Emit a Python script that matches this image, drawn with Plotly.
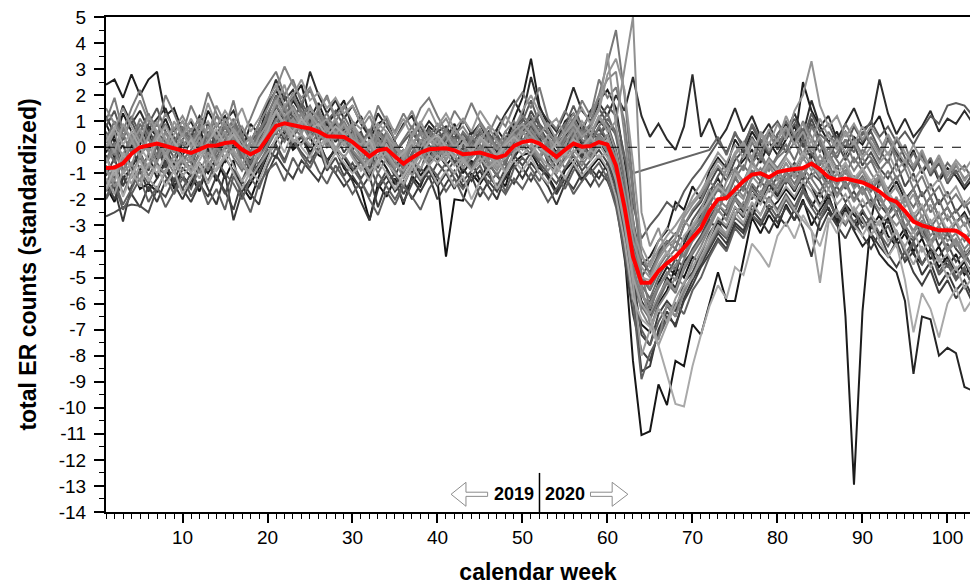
import plotly.graph_objects as go

weeks = list(range(1, 104))

red_mean = [
    -0.8, -0.78, -0.62, -0.25, 0.0, 0.08, 0.14, 0.05, -0.05, -0.15,
    -0.22, -0.08, 0.06, 0.07, 0.16, 0.2, -0.09, -0.27, -0.1, 0.35,
    0.82, 0.92, 0.84, 0.78, 0.72, 0.6, 0.42, 0.39, 0.39, 0.2,
    -0.1, -0.35, -0.12, -0.06, -0.35, -0.63, -0.4, -0.2, -0.08, -0.05,
    -0.04, -0.12, -0.27, -0.24, -0.2, -0.3, -0.4, -0.3, 0.05, 0.2,
    0.26, 0.14, -0.1, -0.37, -0.1, 0.14, 0.02, 0.05, 0.2, 0.1,
    -0.7, -2.3, -4.2, -5.2, -5.2, -4.75, -4.45, -4.2, -3.85, -3.45,
    -3.1, -2.45, -2.0, -1.95, -1.6, -1.3, -1.05, -1.0, -1.15, -0.95,
    -0.88, -0.83, -0.8, -0.63, -0.85, -1.15, -1.25, -1.2, -1.27, -1.35,
    -1.5, -1.7, -1.97, -2.1, -2.45, -2.85, -3.0, -3.1, -3.19, -3.19,
    -3.2, -3.4, -3.75,
]

s01 = [2.4, 2.6, 1.9, 2.8, 2.0, 2.6, 2.9, 1.2, 1.5, 0.6,
       1.0, 0.3, 1.4, 0.8, 1.2, 0.4, -0.2, 0.9, 0.5, 1.6,
       2.2, 1.5, 1.9, 2.4, 1.1, 1.7, 0.9, 1.3, 1.8, 0.7,
       1.2, 0.3, 0.9, 1.1, 0.2, -0.4, 0.6, 0.1, 0.8, 0.5,
       0.3, 0.9, 0.1, 0.6, 0.4, -0.1, 0.7, 0.2, 1.1, 1.9,
       3.4, 1.6, 0.8, 0.2, 1.0, 1.3, 0.6, 1.4, 1.8, 2.2,
       1.5, -0.5, -2.8, -4.5, -4.2, -3.6, -3.2, -2.1, -2.4, -1.5,
       -2.0, -0.9, -0.4, -0.8, 0.3, -0.2, 0.6, 0.1, -0.3, 0.5,
       0.9, 0.2, 2.5, 1.4, 0.8, 0.2, 0.6, -0.3, 0.4, 0.1,
       0.7, 1.2, 0.3, -0.2, -0.7, -0.1, -1.0, -0.5, -1.3, -0.8,
       -1.1, -1.6, -1.2]

s02 = [-1.5, -2.1, -1.2, -0.8, -1.6, -1.4, -1.7, -0.9, -1.3, -1.1,
       -1.5, -0.6, -1.0, -0.4, -1.2, -0.5, -1.9, -1.4, -0.8, -0.2,
       0.3, 0.6, -0.1, 0.2, 0.4, -0.3, -0.5, -0.1, -0.8, -1.2,
       -1.6, -2.8, -1.4, -1.9, -1.2, -2.2, -1.1, -1.5, -0.7, -1.3,
       -4.2, -2.0, -2.05, -1.0, -1.4, -0.9, -1.6, -1.2, -0.6, -0.3,
       -0.2, -0.8, -1.1, -1.7, -0.9, -0.5, -1.2, -0.8, -0.4, -0.9,
       -1.8, -3.4, -5.6, -6.8, -7.1, -6.0, -5.5, -4.6, -5.0, -4.2,
       -4.5, -3.6, -2.9, -3.4, -2.6, -2.2, -2.7, -1.9, -2.4, -2.1,
       -1.6, -2.0, -1.4, -2.3, -1.7, -2.4, -2.8, -2.2, -2.6, -2.9,
       -3.1, -2.6, -3.4, -3.8, -3.3, -4.1, -4.5, -3.9, -4.6, -4.2,
       -4.8, -4.4, -5.1]

s03 = [0.4, -0.3, 0.8, 0.2, 1.1, 0.5, 0.9, 0.3, -0.2, 0.6,
       0.1, 0.8, 0.4, 1.2, 0.7, 0.9, 0.2, -0.4, 0.5, 1.3,
       1.9, 1.4, 2.1, 1.2, 1.6, 0.9, 1.3, 0.6, 1.0, 0.4,
       0.2, -0.6, 0.5, 0.3, -0.2, -0.8, 0.1, 0.6, 0.4, 0.9,
       0.5, 0.2, -0.3, 0.4, 0.1, -0.5, 0.3, 0.0, 0.8, 1.2,
       0.9, 0.4, 0.2, -0.3, 0.6, 1.1, 0.5, 0.9, 2.0, 3.2,
       4.5, 2.0, -1.5, -4.8, -6.2, -5.4, -4.8, -5.1, -4.3, -3.6,
       -3.2, -2.1, -2.5, -1.6, -1.1, -1.7, -0.6, -0.2, -0.9, -0.4,
       -0.1, 0.5, -0.3, 0.8, 0.2, -0.5, -0.2, 0.3, -0.6, -0.1,
       -0.4, -0.9, -0.5, -1.2, -0.8, -1.6, -1.1, -1.9, -1.5, -2.2,
       -1.8, -2.3, -2.0]

s04 = [-0.9, -1.3, -0.4, -0.7, 0.3, -0.2, 0.5, -0.4, 0.2, -0.6,
       -0.3, 0.4, -0.5, 0.1, 0.6, -0.2, -0.8, 0.3, -0.4, 0.8,
       1.4, 0.7, 1.1, 0.5, 1.3, 0.3, 0.8, -0.1, 0.6, 0.9,
       -0.3, 0.2, -0.7, 0.5, -0.4, -0.1, -0.9, 0.3, -0.2, 0.4,
       -0.5, 0.1, -0.6, -0.1, 0.4, -0.3, -0.8, 0.2, -0.1, 0.6,
       0.2, -0.4, 0.5, -0.6, 0.1, 0.7, -0.2, 0.4, 1.2, 0.6,
       1.0, 3.0, 5.0, -2.5, -3.8, -3.1, -4.2, -3.5, -2.8, -3.2,
       -2.4, -1.6, -2.2, -1.3, -0.8, -1.4, -0.5, -1.1, -0.7, -1.3,
       -0.6, -1.2, -0.4, 0.3, -0.9, -0.3, -1.0, -0.6, -1.3, -0.8,
       -1.4, -1.1, -1.9, -1.5, -2.3, -1.8, -2.7, -2.2, -3.0, -2.6,
       -3.3, -2.9, -3.6]

s05 = [-0.2, 0.5, -0.6, 0.1, -0.9, -0.3, -1.2, -0.5, -1.6, -0.8,
       -1.1, -1.7, -0.6, -1.3, -0.4, -0.9, -1.5, -2.0, -1.1, -0.3,
       0.2, 0.9, 0.1, 0.5, -0.2, 0.3, -0.6, 0.0, -0.4, -0.9,
       -0.5, -1.2, -0.3, -0.8, -1.4, -0.9, -0.4, -1.1, -0.6, -0.2,
       -0.7, -0.3, -1.0, -0.5, -1.3, -0.6, -1.1, -1.5, -0.4, 0.1,
       -0.3, 0.4, -0.6, -1.0, -0.4, 0.2, -0.5, -0.1, 0.3, -0.3,
       -1.5, -4.0, -8.2, -11.05, -10.9, -9.1, -9.9, -8.2, -8.4, -6.8,
       -7.2, -6.0, -4.8, -5.9, -5.9, -4.3, -2.7, -3.3, -2.6, -3.1,
       -2.2, -2.8, -2.0, -3.0, -2.4, -1.9, -2.7, -2.3, -3.1, -2.5,
       -2.9, -3.4, -2.7, -3.6, -3.1, -4.0, -3.5, -4.3, -3.8, -4.6,
       -4.1, -4.9, -4.5]

s06 = [-1.6, -0.8, -1.9, -1.1, -0.5, -1.3, -0.7, -1.5, -0.9, -1.8,
       -1.2, -0.6, -1.4, -0.8, -0.3, -1.0, -1.6, -0.9, -1.3, -0.5,
       0.4, -0.2, 0.6, 0.0, -0.4, 0.3, -0.8, -0.2, -0.6, -1.0,
       -0.7, -1.3, -0.5, -1.0, -1.6, -1.1, -0.6, -1.2, -0.8, -1.4,
       -0.9, -1.5, -1.1, -2.0, -1.3, -0.8, -1.6, -1.0, -0.5, -0.9,
       -0.4, -1.0, -1.4, -0.7, -1.2, -0.6, -1.1, -0.7, -0.3, -0.8,
       -1.9, -3.6, -5.8, -6.6, -6.9, -7.6, -8.7, -9.85, -9.95, -8.4,
       -7.2, -6.1, -5.3, -5.8, -4.6, -4.9, -3.7, -4.1, -4.6, -3.4,
       -2.9, -3.5, -2.6, -3.2, -3.8, -2.7, -3.3, -2.5, -3.0, -3.4,
       -2.8, -3.6, -4.2, -3.7, -5.1, -7.1, -5.6, -6.2, -7.3, -6.0,
       -5.4, -6.3, -5.8]

s07 = [0.9, 0.2, 1.3, 0.6, 0.1, 0.8, 0.4, 1.1, 0.3, -0.3,
       0.2, 0.7, -0.1, 0.5, 1.0, 0.6, 0.1, -0.5, 0.4, 1.1,
       1.6, 1.0, 1.8, 1.3, 0.7, 1.2, 0.5, 0.9, 0.2, 0.6,
       0.0, -0.5, 0.4, 0.1, -0.3, -0.7, 0.2, -0.2, 0.5, 0.1,
       0.4, -0.1, 0.3, -0.4, 0.2, 0.6, -0.2, 0.3, 0.9, 0.5,
       1.1, 0.6, 0.3, -0.2, 0.4, 0.8, 0.1, 0.5, 1.0, 0.7,
       -0.3, -1.9, -3.8, -5.6, -6.3, -5.2, -4.6, -4.9, -3.7, -3.0,
       -2.6, -1.7, -1.2, -1.8, -0.9, -0.5, -0.1, -0.6, 0.2, -0.3,
       0.3, 0.8, 0.1, -0.4, 0.2, -0.8, -2.5, -6.5, -12.95, -6.3,
       -2.8, -1.2, -1.8, -1.3, -2.0, -1.6, -2.4, -1.9, -2.7, -2.3,
       -2.9, -2.5, -3.1]

s08 = [0.3, -0.4, 0.1, -0.8, -0.2, 0.6, -0.5, 0.0, -0.7, 0.2,
       -0.4, 0.3, -0.2, 0.5, -0.6, 0.1, -0.3, -0.9, -0.1, 0.5,
       1.2, 0.8, 1.5, 0.6, 1.0, 0.4, 0.9, 0.2, 0.7, -0.1,
       0.3, -0.4, 0.2, -0.3, -0.8, -0.2, -1.0, 0.1, -0.4, 0.3,
       -0.2, 0.4, -0.5, 0.0, -0.3, 0.5, -0.1, -0.6, 0.2, 0.8,
       0.5, 0.1, -0.4, 0.3, -0.2, 0.4, -0.3, 0.6, 0.3, -0.2,
       -1.2, -2.9, -4.6, -5.9, -6.5, -5.8, -5.0, -5.4, -4.4, -4.0,
       -3.5, -2.8, -3.2, -2.4, -2.0, -2.5, -1.6, -2.1, -1.4, -1.9,
       -1.2, -1.7, -1.0, -1.5, -2.2, -1.8, -2.9, -2.4, -3.2, -3.8,
       -3.4, -4.1, -4.5, -4.8, -5.9, -8.7, -6.5, -6.6, -8.0, -7.7,
       -7.9, -9.2, -9.35]

s09 = [1.2, 0.5, 1.6, 0.9, 1.4, 0.7, 1.1, 1.5, 0.6, 1.0,
       0.4, 1.2, 0.8, 0.3, 1.0, 1.4, 0.6, 0.2, 0.9, 1.7,
       2.6, 1.8, 2.2, 1.5, 2.9, 2.0, 1.3, 1.8, 1.1, 1.6,
       0.9, 0.4, 1.3, 0.8, 0.3, 0.9, 1.2, 0.5, 1.0, 0.6,
       0.8, 0.3, 1.1, 0.5, 0.9, 0.2, 0.7, 1.3, 1.8, 1.2,
       2.7, 1.5, 1.0, 0.6, 1.3, 2.3, 1.4, 1.0, 1.7, 1.2,
       2.0, 1.4, 2.7, 1.2, 0.4, 0.9, 0.3, -0.1, 0.8, 2.8,
       0.4, 1.1, 0.2, 0.7, 1.5, 0.6, 1.2, 0.4, 0.9, 0.1,
       0.6, 1.3, 0.5, 1.8, 0.8, 1.2, 0.3, 0.9, 1.5, 0.7,
       0.9, 2.6, 1.3, 0.5, 1.1, 0.4, 0.8, 1.4, 0.6, 1.1,
       0.9, 1.4, 0.9]

s10 = [-0.5, 0.2, -0.9, -0.3, 0.4, -0.1, 0.6, -0.4, 0.3, -0.6,
       -0.9, -0.2, 0.5, -0.4, 0.3, 0.8, -0.3, -0.6, 0.2, 0.6,
       1.0, 1.4, 0.6, 1.1, 0.4, 0.8, 0.1, 0.7, 0.3, -0.2,
       -0.6, 0.1, -0.4, 0.4, -0.1, -0.9, -0.2, 0.3, -0.5, 0.2,
       -0.3, 0.3, -0.8, -0.2, 0.5, -0.4, 0.1, -0.7, 0.4, 0.9,
       0.4, 0.9, -0.2, 0.3, -0.5, 0.6, -0.1, 0.8, 0.4, 1.1,
       0.6, -0.4, -1.0, -0.9, None, None, None, None, None, None,
       None, -0.1, 0.4, -0.3, 0.6, -0.1, 0.9, 0.3, -0.2, 0.5,
       1.0, 0.4, 0.7, -0.1, 0.5, 0.2, -0.4, 0.3, -0.2, 0.6,
       0.1, -0.5, 0.3, -0.3, -0.8, -0.2, -0.9, -0.4, -1.2, -0.6,
       -1.0, -0.7, -1.3]

s11 = [-2.65, -2.5, -2.3, -2.2, -2.25, -2.5, -1.6, -1.9, -1.2, -1.6,
       -1.0, -1.5, -0.7, -1.1, -1.8, -0.9, -1.3, -0.5, -1.0, -0.2,
       0.1, -0.5, 0.3, -0.2, -0.6, 0.0, -0.9, -0.4, -1.1, -0.6,
       -1.2, -0.7, -1.5, -0.9, -1.3, -2.1, -1.4, -0.8, -1.2, -0.6,
       -1.0, -0.5, -1.3, -0.9, -0.4, -1.1, -1.5, -0.8, -0.3, -0.7,
       -0.2, -0.6, -1.0, -1.4, -0.8, -0.3, -0.9, -0.5, -0.1, -0.6,
       -1.6, -3.2, -5.1, -6.2, -5.9, -5.3, -4.9, -4.3, -4.6, -3.9,
       -3.4, -2.7, -2.2, -2.6, -1.9, -1.5, -2.0, -1.3, -1.7, -1.1,
       -1.4, -0.9, -1.6, -1.0, -1.3, -1.9, -1.5, -2.1, -1.7, -2.3,
       -2.0, -2.6, -2.9, -2.5, -3.3, -3.6, -3.1, -3.9, -4.2, -3.7,
       -4.4, -4.0, -4.7]

s12 = [-1.1, -0.4, -1.5, -0.7, -0.2, -0.9, 0.1, -0.6, -1.3, -0.5,
       -0.8, 0.2, -0.4, 0.6, -0.1, 0.5, -0.7, -1.1, -0.3, 0.2,
       0.9, 0.3, 1.2, 0.7, 1.1, 0.2, 0.6, 0.9, 0.1, 0.4,
       -0.4, -0.9, 0.1, -0.5, -1.1, -0.4, 0.2, -0.3, 0.4, -0.2,
       0.3, -0.4, 0.0, -0.7, -0.2, -0.9, -0.3, 0.1, 0.6, 0.2,
       0.8, 0.3, -0.3, -0.8, 0.2, 0.5, -0.4, 0.3, 0.7, 0.2,
       -0.9, -2.6, -4.9, -7.2, -7.6, -6.4, -5.9, -6.3, -5.2, -4.8,
       -4.1, -3.3, -2.8, -3.1, -2.3, -2.7, -1.5, -2.0, -1.3, -1.8,
       -1.0, -0.6, -1.3, -0.2, -0.9, -1.4, -0.7, -1.6, -1.1, -1.8,
       -1.3, -2.2, -2.6, -2.0, -3.1, -2.6, -3.5, -3.0, -3.8, -3.3,
       -3.9, -4.3, -3.8]

s13 = [-0.3, -1.2, -0.6, 0.3, -0.4, 0.7, 0.0, -0.8, 0.4, -0.2,
       0.5, -0.3, 0.9, 0.2, -0.5, 0.4, -0.1, -0.7, 0.3, 0.9,
       0.5, 1.2, 0.4, 0.9, 1.4, 0.6, 0.1, 0.5, -0.2, 0.3,
       0.6, -0.2, -0.8, 0.2, -0.4, -0.1, -0.6, -0.9, 0.1, -0.5,
       0.1, -0.6, -0.2, 0.4, -0.5, -0.1, -0.7, 0.0, -0.4, 0.5,
       1.4, 0.8, 0.2, -0.5, -0.1, 0.6, 0.2, -0.3, 0.4, 0.9,
       0.5, -1.2, -3.6, -5.0, -4.4, -4.0, -3.6, -3.9, -3.0, -2.5,
       -2.1, -1.4, -0.8, -1.3, -0.5, -0.1, -0.7, 0.3, -0.3, 0.4,
       -0.2, 0.6, 0.0, 1.1, 0.3, -0.4, 0.2, -0.5, 0.1, -0.7,
       -0.2, -0.8, -1.2, -0.6, -1.5, -1.0, -1.9, -1.4, -2.2, -1.7,
       -2.5, -2.1, -2.8]

s14 = [0.8, 1.4, 0.4, 1.0, 0.3, 0.9, 1.5, 0.6, 0.1, 0.7,
       0.3, -0.2, 0.6, 0.1, 0.8, 0.3, -0.3, 0.2, 0.6, 1.0,
       1.5, 2.0, 1.1, 1.6, 0.9, 1.4, 0.7, 1.0, 0.5, 0.8,
       0.2, 0.6, -0.1, 0.5, 0.0, -0.5, 0.4, 0.8, 0.2, 0.7,
       0.2, 0.6, 0.0, 0.4, -0.2, 0.3, 0.5, -0.1, 0.7, 1.1,
       0.7, 1.3, 0.6, 0.1, 0.5, 1.0, 0.4, 0.8, 1.5, 0.9,
       -0.1, -1.6, -3.3, -4.4, -4.8, -4.1, -3.7, -3.3, -3.6, -2.8,
       -2.3, -1.8, -1.1, -0.6, -1.0, -0.3, 0.4, -0.2, 0.6, -0.1,
       0.5, 1.1, 0.4, 0.9, 0.1, -0.3, 0.4, 0.0, 0.8, 0.2,
       0.6, -0.1, -0.6, 0.3, -0.4, -0.9, -0.3, -1.1, -0.6, -1.4,
       -0.9, -1.5, -1.0]

s15 = [-1.9, -1.3, -2.2, -1.6, -0.9, -1.4, -0.6, -1.1, -1.8, -1.2,
       -1.6, -0.8, -1.3, -0.5, -1.0, -1.4, -2.0, -1.2, -1.6, -0.7,
       0.0, -0.6, 0.3, -0.3, -0.8, -0.1, -0.5, -1.0, -0.3, -0.8,
       -1.3, -1.9, -1.0, -1.5, -2.0, -1.4, -0.8, -1.3, -0.7, -1.1,
       -0.6, -1.2, -1.6, -1.1, -0.7, -1.4, -1.0, -1.7, -0.8, -0.4,
       -0.8, -1.3, -0.6, -1.1, -1.6, -0.9, -0.5, -1.0, -0.6, -1.2,
       -2.3, -4.0, -5.9, -8.9, -7.9, -7.3, -6.6, -6.0, -6.4, -5.5,
       -5.0, -4.2, -3.6, -4.0, -3.1, -3.5, -2.6, -2.9, -2.2, -2.7,
       -2.0, -2.5, -1.7, -2.3, -2.8, -2.1, -2.6, -3.0, -2.4, -3.1,
       -2.7, -3.3, -3.8, -3.2, -4.1, -3.6, -4.5, -4.0, -4.8, -4.3,
       -5.0, -4.6, -5.4]

s16 = [0.1, -0.6, 0.5, -0.2, 0.9, 0.3, -0.3, 0.6, 0.0, -0.5,
       -0.1, 0.5, -0.3, 0.3, 0.8, 0.2, -0.4, 0.1, -0.2, 0.4,
       1.1, 0.6, 0.9, 1.3, 0.5, 1.0, 0.3, 0.7, 0.9, 0.2,
       -0.2, -0.7, 0.3, -0.1, -0.6, -1.0, -0.3, 0.2, -0.2, 0.3,
       -0.1, 0.4, -0.4, 0.2, -0.6, 0.0, -0.5, 0.3, 0.5, 0.0,
       0.6, 0.1, -0.5, -0.2, 0.4, 0.0, 0.5, 0.2, 0.8, 0.3,
       -0.4, -2.0, -4.1, -5.3, -5.8, -5.0, -4.4, -4.7, -3.9, -3.3,
       -2.9, -2.2, -1.6, -2.0, -1.2, -1.6, -0.9, -1.3, -0.6, -1.0,
       -0.4, -0.9, -0.2, -0.7, -1.2, -0.6, -1.4, -0.9, -1.5, -1.1,
       -1.7, -1.2, -2.0, -2.5, -1.9, -2.8, -2.3, -3.1, -2.6, -3.4,
       -2.9, -3.6, -3.2]

s17 = [-1.4, -0.7, -1.8, -1.0, -0.4, -1.1, -0.5, -0.1, -0.8, -0.3,
       -0.6, 0.0, -0.7, -0.2, 0.3, -0.4, -0.9, -0.3, -0.7, 0.0,
       0.6, 0.2, 0.8, 0.4, 0.0, 0.6, 0.2, -0.2, 0.4, -0.3,
       -0.8, -0.3, -1.0, -0.4, -0.9, -1.5, -0.7, -0.2, -0.6, 0.0,
       -0.5, 0.1, -0.3, -0.8, -0.2, -0.6, -1.1, -0.5, -0.1, 0.3,
       -0.1, -0.5, 0.2, -0.3, -0.8, -0.2, 0.1, -0.4, 0.3, -0.1,
       -1.0, -2.8, -4.5, -6.1, -6.6, -5.9, -5.2, -5.6, -4.7, -4.1,
       -3.6, -3.0, -2.4, -2.8, -1.9, -2.3, -1.4, -1.8, -1.1, -1.6,
       -0.9, -1.4, -0.8, -1.2, -1.7, -1.1, -1.8, -1.3, -2.0, -1.5,
       -2.2, -1.8, -2.6, -2.2, -3.0, -3.5, -3.0, -3.7, -3.3, -4.0,
       -3.6, -4.2, -4.6]

s18 = [-0.6, 0.1, -0.3, 0.5, -0.1, 0.4, -0.4, 0.2, 0.7, 0.1,
       0.4, -0.2, 0.3, 0.9, 0.4, -0.1, 0.5, -0.3, 0.2, 0.7,
       1.3, 0.9, 1.6, 1.0, 0.6, 1.2, 0.5, 0.3, 0.8, 0.4,
       0.0, -0.4, 0.6, 0.1, -0.3, -0.6, 0.0, -0.4, 0.3, -0.1,
       0.6, 0.2, -0.2, 0.3, 0.7, 0.1, -0.3, 0.4, 0.0, 0.6,
       0.3, 0.7, 0.0, -0.4, 0.3, 0.8, 0.3, 0.0, 0.5, 0.1,
       -0.6, -2.2, -3.9, -4.9, -5.4, -4.6, -4.1, -3.6, -3.9, -3.1,
       -2.7, -1.9, -1.4, -1.7, -0.9, -1.3, -0.6, -1.0, -0.4, -0.8,
       -0.3, 0.2, -0.5, 0.0, -0.6, -0.2, -0.8, -0.3, -0.9, -0.4,
       -1.0, -1.5, -0.9, -1.6, -2.1, -1.6, -2.4, -1.9, -2.7, -2.3,
       -2.9, -2.6, -3.3]

s19 = [-1.7, -1.0, -0.5, -1.2, -0.3, -0.8, 0.2, -0.4, -1.0, -0.4,
       -0.9, -0.3, 0.2, -0.5, 0.0, 0.5, -0.2, -0.8, -0.4, 0.1,
       0.7, 1.1, 0.5, 0.9, 0.3, 0.7, 0.0, 0.4, 0.6, -0.1,
       -0.5, -1.0, -0.4, 0.1, -0.5, -1.2, -0.6, -0.1, -0.5, -0.2,
       -0.3, 0.2, -0.6, -0.3, 0.0, -0.7, -0.4, -0.9, -0.2, 0.2,
       0.0, -0.4, -0.9, -0.4, 0.1, -0.3, -0.7, -0.2, 0.4, 0.0,
       -0.8, -2.5, -4.7, -5.7, -6.0, -5.3, -4.9, -4.5, -4.1, -3.6,
       -3.2, -2.6, -2.0, -2.3, -1.5, -1.9, -1.2, -0.8, -1.4, -0.9,
       -1.3, -0.7, -1.1, -0.5, -1.0, -1.6, -1.0, -1.5, -1.2, -1.8,
       -1.4, -2.0, -2.4, -1.9, -2.7, -3.2, -2.6, -3.4, -3.0, -3.6,
       -3.3, -3.9, -3.5]

s20 = [-0.8, -1.5, -1.0, -0.6, -1.3, -0.2, -0.7, -1.0, -0.3, -0.9,
       -0.4, -1.0, -0.2, -0.7, 0.1, -0.3, -0.6, -1.0, 0.0, 0.3,
       0.9, 0.4, 1.0, 0.6, 1.2, 0.5, 0.2, 0.6, 0.1, 0.5,
       -0.2, -0.7, 0.2, -0.3, -0.8, -0.4, -1.1, -0.5, 0.0, -0.4,
       0.1, -0.3, -0.8, -0.4, -0.1, -0.5, -0.9, -0.3, 0.3, -0.1,
       0.4, -0.1, -0.4, -0.9, -0.3, 0.2, -0.2, 0.3, 0.0, 0.5,
       -0.5, -2.1, -4.3, -5.5, -6.4, -5.7, -5.1, -5.5, -4.6, -4.0,
       -3.5, -2.9, -2.2, -2.5, -1.7, -2.0, -1.1, -1.5, -0.7, -1.2,
       -0.6, -1.1, -0.4, -0.9, -0.3, -0.8, -1.3, -0.7, -1.4, -0.9,
       -1.6, -1.1, -1.9, -2.3, -2.0, -2.7, -3.2, -2.8, -3.5, -3.1,
       -3.8, -3.4, -4.0]

s21 = [0.5, -0.2, 0.9, 0.3, -0.4, 0.4, 1.0, 0.3, -0.1, 0.5,
       0.0, 0.6, 1.0, 0.4, 0.1, 0.7, 0.2, -0.3, 0.4, 0.9,
       1.8, 1.2, 1.5, 0.9, 1.3, 0.8, 1.1, 0.5, 0.9, 0.3,
       0.1, 0.5, -0.2, 0.4, 0.0, -0.4, 0.3, 0.0, 0.4, 0.1,
       0.5, 0.0, 0.4, -0.2, 0.3, 0.0, -0.3, 0.2, 0.6, 0.9,
       0.5, 0.1, 0.4, 0.0, 0.5, 0.9, 0.4, 0.7, 1.5, 3.6,
       0.8, -0.9, -3.1, -4.2, -4.6, -3.9, -3.4, -3.0, -2.5, -2.1,
       -1.7, -1.1, -0.5, -0.9, -0.2, 0.2, -0.4, 0.5, -0.1, 0.3,
       0.8, 0.1, 0.6, -0.1, 0.4, -0.3, 0.3, -0.2, 0.2, -0.4,
       0.0, -0.6, -0.2, -0.9, -0.5, -1.3, -0.8, -1.6, -1.2, -1.9,
       -1.5, -2.2, -1.8]

s22 = [-1.2, -1.8, -0.9, -1.4, -0.7, -1.2, -1.6, -0.9, -0.5, -1.1,
       -0.7, -1.2, -0.5, -0.9, -0.4, -0.1, -0.6, -1.2, -0.7, -0.2,
       0.3, 0.8, 0.2, 0.5, 0.1, -0.2, 0.3, 0.0, -0.4, 0.1,
       -0.4, -0.9, -0.6, -0.2, -0.7, -0.9, -0.4, -0.8, -0.3, -0.6,
       -0.2, -0.7, -0.4, -0.9, -0.6, -0.2, -0.7, -0.4, 0.1, -0.3,
       0.1, -0.3, -0.7, -1.0, -0.5, -0.1, -0.5, -0.1, -0.4, -0.2,
       -1.3, -3.0, -5.2, -8.0, -7.0, -6.2, -6.7, -5.8, -5.2, -4.6,
       -4.0, -3.4, -2.7, -3.0, -2.3, -2.6, -1.8, -2.2, -1.6, -2.0,
       -1.5, -1.9, -1.3, -1.7, -2.3, -1.6, -2.2, -1.8, -2.5, -2.0,
       -2.6, -3.0, -2.5, -3.3, -3.8, -3.2, -4.0, -3.6, -4.4, -4.1,
       -4.7, -4.3, -5.0]

s23 = [0.2, 0.8, 0.1, 0.6, 0.0, -0.5, 0.3, 0.8, 0.2, -0.2,
       0.3, -0.3, 0.2, 0.7, 0.1, 0.5, 0.0, -0.4, 0.1, 0.6,
       1.4, 0.9, 0.6, 1.1, 0.7, 0.9, 0.4, 0.8, 0.5, 0.1,
       -0.2, 0.3, -0.4, 0.1, -0.5, -0.2, 0.2, -0.3, 0.2, 0.5,
       0.0, -0.4, 0.2, -0.2, 0.4, 0.1, -0.4, 0.1, 0.4, 0.1,
       0.3, 0.0, -0.3, 0.2, -0.3, 0.3, 0.0, 0.4, 0.0, 0.3,
       -0.7, -2.4, -4.4, -5.0, -5.1, -4.5, -4.0, -4.3, -3.4, -3.0,
       -2.5, -2.0, -1.5, -1.8, -1.0, -1.4, -0.7, -1.1, -0.5, -0.9,
       -0.4, -0.8, -0.2, -0.6, -1.1, -0.5, -1.0, -0.6, -1.2, -0.8,
       -1.3, -0.9, -1.7, -2.2, -1.8, -2.6, -2.2, -2.9, -2.5, -3.2,
       -2.8, -3.5, -3.1]

s24 = [0.6, -0.1, 0.3, 1.2, 0.5, 0.0, 0.6, 0.2, -0.4, 0.3,
       0.7, 0.1, -0.4, 0.2, 0.5, 1.0, 0.3, -0.2, 0.6, 1.2,
       2.0, 1.4, 1.0, 1.7, 1.2, 0.6, 1.0, 1.4, 0.8, 0.3,
       0.5, 0.0, 0.7, 0.3, -0.2, 0.2, 0.6, 0.1, 0.7, 0.2,
       0.7, 0.3, 0.5, 0.1, 0.6, 0.2, 0.4, 0.0, 0.5, 1.0,
       1.8, 0.9, 0.5, 0.2, 0.8, 1.6, 0.8, 0.4, 1.1, 1.6,
       1.2, -0.3, -2.2, -3.5, -3.0, -2.6, -2.1, -2.4, -1.7, -1.2,
       -0.8, -0.3, 0.2, -0.2, 0.5, 0.1, 0.8, 0.2, 0.6, 1.0,
       0.4, 0.9, 0.3, 1.3, 0.6, 0.9, 0.2, 0.6, 0.0, 0.5,
       1.0, 0.4, 0.8, 0.2, 0.6, 0.1, 0.7, 1.2, 0.9, 1.6,
       1.7, 1.6, 1.2]

s25 = [1.5, 0.9, 0.4, 1.1, 1.8, 1.0, 0.5, 1.3, 0.7, 1.2,
       0.6, 1.1, 0.4, 1.6, 0.9, 0.3, 0.8, 0.2, 0.9, 1.5,
       2.2, 3.1, 2.4, 1.9, 2.3, 1.5, 1.9, 1.2, 1.6, 1.0,
       0.7, 1.2, 0.4, 0.9, 0.3, 0.8, 1.4, 0.6, 0.2, 0.7,
       1.1, 0.5, 0.8, 0.3, 0.9, 0.4, -0.1, 0.6, 1.0, 0.5,
       0.9, 1.4, 0.6, 0.2, 0.7, 1.3, 0.8, 1.2, 2.0, 2.6,
       2.9, 0.5, -2.7, -5.3, -6.8, -7.4, -6.0, -6.5, -5.6, -4.9,
       -4.4, -3.7, -3.1, -3.4, -2.6, -2.1, -2.5, -1.7, -2.1, -1.4,
       -1.0, -1.6, -0.8, -1.2, -0.5, -1.0, -1.5, -0.9, -1.6, -1.2,
       -1.9, -2.4, -1.8, -2.6, -3.1, -2.5, -3.3, -3.8, -3.2, -4.0,
       -3.6, -4.3, -3.9]

s26 = [-0.7, -1.6, -2.85, -1.5, -0.9, -1.7, -1.2, -0.6, -1.4, -2.0,
       -1.3, -0.8, -1.6, -2.2, -1.0, -2.8, -1.7, -1.2, -0.6, -0.1,
       -0.4, 0.5, 0.0, 0.4, -0.3, 0.2, -0.5, -0.1, -0.7, -1.3,
       -2.1, -2.8, -1.6, -1.1, -1.7, -1.3, -2.0, -1.4, -0.9, -1.5,
       -1.0, -1.6, -0.8, -1.3, -0.9, -1.5, -2.0, -1.1, -0.7, -1.2,
       -0.6, -1.0, -1.5, -2.2, -1.4, -0.7, -1.3, -0.8, -1.2, -0.6,
       -1.4, -3.4, -5.6, -8.6, -8.4, -7.0, -6.3, -6.9, -5.8, -5.1,
       -4.5, -3.9, -3.3, -3.7, -2.9, -3.2, -2.4, -2.8, -3.3, -2.6,
       -3.0, -2.4, -3.1, -4.2, -2.8, -2.3, -3.0, -2.5, -3.2, -2.7,
       -3.3, -3.8, -4.2, -3.6, -4.4, -4.0, -4.9, -4.4, -5.3, -4.8,
       -5.5, -5.1, -5.8]

s27 = [-0.1, 0.6, -0.5, 0.2, 0.7, -0.1, 0.4, -0.3, 0.5, 1.0,
       0.4, -0.1, 0.8, 0.3, 1.1, 0.6, 0.0, 0.4, -0.2, 0.9,
       1.7, 2.4, 1.3, 0.8, 1.5, 1.1, 0.6, 1.1, 0.4, 0.9,
       0.4, -0.1, 0.9, 0.6, 0.1, -0.3, 0.5, 1.0, 0.3, -0.1,
       0.2, 0.7, 0.3, -0.1, 0.2, 0.8, 0.2, -0.2, 0.3, 0.7,
       1.0, 0.5, 0.9, 0.3, -0.2, 0.4, 1.0, 0.5, 1.2, 0.8,
       -0.2, -1.8, -3.6, -4.6, -5.0, -4.3, -3.8, -3.5, -2.7, -2.2,
       -1.8, -1.2, -0.7, -1.1, -0.3, 0.1, -0.5, 0.6, 0.1, 0.9,
       0.3, 1.4, 2.0, 3.3, 1.6, 0.8, 1.2, 0.4, 0.9, 0.3,
       0.8, 0.3, -0.3, 0.4, -0.2, -0.7, -0.1, -0.9, -0.5, -1.1,
       -0.6, -1.3, -0.8]

s28 = [-0.4, -1.1, -0.2, -0.9, -1.5, -0.6, -1.0, -0.3, -0.8, -0.4,
       -1.0, -0.5, 0.1, -0.6, -0.1, -0.7, -1.3, -0.8, -0.2, 0.4,
       0.6, 1.0, 0.3, 0.1, 0.5, 0.0, 0.4, -0.2, 0.2, -0.4,
       -0.9, -0.5, 0.0, -0.6, -1.0, -1.4, -0.8, -0.3, -0.7, -0.3,
       -0.6, -1.0, -0.5, -0.9, -0.4, -0.8, -0.5, -1.0, -0.2, 0.0,
       -0.3, 0.2, -0.2, -0.6, -0.2, -0.6, -0.1, -0.5, 0.1, -0.4,
       -1.2, -2.8, -5.0, -6.0, -6.5, -7.6, -6.8, -6.1, -5.4, -5.0,
       -4.2, -3.6, -3.0, -3.3, -2.5, -2.9, -2.1, -2.6, -2.0, -2.5,
       -1.9, -2.4, -2.8, -3.2, -5.2, -2.9, -2.4, -2.9, -2.3, -2.8,
       -3.4, -2.8, -3.6, -3.2, -3.9, -4.5, -3.8, -4.6, -4.2, -5.0,
       -4.6, -5.4, -5.0]

s29 = [1.0, 1.9, 0.6, 1.5, 2.2, 1.2, 0.8, 2.0, 1.3, 0.5,
       1.6, 0.9, 2.1, 1.3, 0.7, 1.8, 0.4, 1.1, 1.9, 2.4,
       2.9, 2.0, 2.6, 1.7, 2.2, 1.4, 2.0, 1.0, 1.5, 1.9,
       1.1, 0.5, 1.6, 1.0, 0.6, 1.3, 0.7, 1.5, 1.9, 1.2,
       0.6, 1.4, 0.9, 1.7, 1.0, 0.5, 1.2, 0.8, 1.6, 2.1,
       1.5, 2.3, 1.1, 0.7, 1.4, 0.9, 1.8, 1.2, 2.6, 1.9,
       2.3, 1.0, -1.8, -4.1, -4.9, -4.2, -3.6, -3.9, -3.0, -2.4,
       -2.0, -1.3, -1.7, -0.8, -0.3, -0.9, 0.2, -0.4, 0.5, 0.0,
       0.7, 0.1, 1.0, 0.4, -0.2, 0.6, 0.0, 0.9, 0.3, -0.3,
       0.4, -0.2, 0.5, -0.6, 0.1, -0.8, -0.2, -1.0, -0.4, -1.3,
       -0.7, -1.2, -0.9]

s30 = [-2.0, -1.4, -2.4, -1.8, -1.2, -2.1, -1.5, -2.3, -1.7, -1.0,
       -1.9, -1.3, -2.2, -1.6, -2.4, -1.1, -1.8, -2.5, -1.4, -0.9,
       -0.6, -1.3, -0.4, -1.0, -0.2, -0.9, -1.4, -0.7, -1.2, -1.8,
       -1.3, -2.0, -2.6, -1.7, -2.2, -1.5, -1.9, -2.4, -1.6, -1.1,
       -1.7, -1.2, -1.9, -2.3, -1.5, -2.0, -1.4, -1.8, -1.2, -1.6,
       -1.0, -1.5, -2.1, -1.6, -1.1, -1.8, -1.3, -0.9, -1.5, -1.0,
       -2.0, -3.7, -5.5, -7.0, -7.6, -6.7, -6.1, -6.5, -5.5, -4.9,
       -4.3, -3.8, -3.2, -3.5, -2.7, -3.0, -2.2, -2.6, -1.9, -2.4,
       -1.8, -2.3, -1.6, -2.1, -2.6, -2.0, -2.7, -2.2, -2.9, -2.4,
       -3.0, -3.5, -3.0, -3.8, -4.3, -3.7, -4.5, -4.0, -4.9, -4.5,
       -5.1, -4.7, -5.3]

s31 = [0.0, 0.7, 1.5, 0.8, 0.2, 1.2, 0.6, -0.1, 1.0, 0.4,
       1.1, 0.5, 1.7, 0.8, 1.4, 0.9, 1.5, 0.6, 1.1, 1.8,
       2.4, 1.6, 2.0, 2.6, 1.8, 2.1, 1.5, 1.9, 1.3, 1.6,
       0.9, 1.4, 0.7, 1.2, 0.5, 1.1, 0.4, 0.9, 1.5, 0.8,
       1.3, 0.7, 1.1, 0.6, 1.4, 0.9, 0.5, 1.2, 0.7, 1.4,
       2.0, 1.3, 0.8, 1.1, 0.5, 1.0, 1.5, 0.9, 1.4, 2.8,
       3.4, 2.2, -0.6, -3.8, -4.5, -3.6, -3.1, -3.4, -2.6, -1.9,
       -1.4, -0.8, -0.2, -0.6, 0.1, -0.4, 0.3, -0.1, 0.7, 0.2,
       1.2, 0.5, 0.9, 0.2, 1.1, 0.4, -0.1, 0.6, 0.1, 0.8,
       0.2, -0.3, 0.5, -0.1, -0.6, 0.1, -0.5, -0.9, -0.3, -1.0,
       -0.5, -0.9, -0.4]

s32 = [-1.3, -2.0, -1.1, -1.8, -2.3, -1.5, -2.1, -1.3, -0.9, -1.6,
       -2.1, -1.4, -1.9, -1.1, -1.7, -2.4, -1.3, -1.8, -2.2, -1.0,
       -0.3, -0.8, -1.2, -0.5, -0.9, -1.3, -0.6, -1.0, -1.5, -1.1,
       -1.6, -1.1, -2.3, -1.4, -1.0, -1.8, -1.2, -1.7, -1.1, -2.0,
       -1.4, -0.9, -1.5, -1.1, -1.9, -1.3, -1.7, -1.0, -1.4, -0.8,
       -1.3, -0.7, -1.2, -1.8, -1.2, -1.6, -1.0, -1.5, -0.9, -1.3,
       -2.1, -4.2, -6.4, -7.8, -8.2, -7.1, -6.5, -6.8, -5.9, -5.3,
       -4.6, -4.1, -3.5, -3.9, -3.0, -3.3, -2.6, -3.0, -2.4, -2.9,
       -2.3, -2.8, -2.1, -2.6, -3.2, -2.5, -3.0, -3.5, -2.8, -3.4,
       -3.9, -3.3, -4.1, -4.6, -4.0, -4.8, -5.3, -4.7, -5.6, -5.1,
       -5.8, -5.3, -6.0]

s33 = [-0.6, -0.1, -1.0, 0.4, -0.3, 0.1, -0.6, 0.6, -0.2, 0.3,
       -0.5, 0.2, -0.9, 0.0, -0.4, 0.3, -0.7, 0.1, -0.3, 0.5,
       1.0, 1.6, 0.7, 1.3, 0.8, 1.5, 0.6, 1.0, 0.4, 0.8,
       0.3, -0.3, 0.4, -0.4, 0.2, -0.5, 0.1, 0.5, -0.1, 0.3,
       -0.2, 0.3, -0.5, 0.1, -0.3, 0.4, -0.6, 0.0, 0.5, 0.2,
       0.7, 0.2, -0.2, 0.4, -0.4, 0.1, 0.6, -0.1, 0.3, -0.2,
       -0.9, -2.7, -4.8, -6.3, -6.9, -6.1, -5.6, -5.0, -5.3, -4.4,
       -3.8, -3.1, -2.4, -2.8, -2.0, -2.4, -1.6, -2.0, -1.3, -1.7,
       -1.2, -1.6, -1.0, -1.5, -1.9, -1.3, -1.9, -1.4, -2.1, -1.6,
       -2.3, -1.8, -2.6, -3.0, -2.6, -3.3, -2.8, -3.6, -3.2, -3.9,
       -3.5, -4.1, -3.7]

s34 = [0.3, 1.0, 0.5, -0.2, 0.6, 1.3, 0.4, 0.9, 0.2, 0.8,
       0.2, 0.9, 0.3, -0.1, 0.5, 1.1, 0.4, -0.2, 0.7, 1.1,
       1.6, 1.1, 1.9, 1.4, 0.8, 1.3, 1.0, 0.5, 1.2, 0.6,
       0.1, 0.7, 0.0, 0.6, -0.2, 0.3, 0.8, 0.2, 0.6, 0.0,
       0.4, -0.1, 0.6, 0.2, -0.1, 0.5, 0.0, 0.6, 0.2, 0.8,
       1.2, 0.5, 0.0, 0.5, 0.9, 0.3, 0.7, 0.1, 0.8, 1.3,
       0.4, -1.3, -3.4, -5.0, -5.5, -4.8, -4.3, -3.9, -4.2, -3.3,
       -2.8, -2.1, -1.5, -1.9, -1.2, -0.7, -1.1, -0.4, -0.9, -0.3,
       0.1, -0.5, 0.3, -0.2, -0.7, 0.0, -0.5, -1.0, -0.4, -0.9,
       -0.5, -1.2, -1.6, -1.1, -1.8, -2.3, -1.7, -2.5, -2.0, -2.8,
       -2.4, -3.0, -2.6]

# drawing order (later = on top) and grey shade of each region's line
region_series = [s02, s05, s07, s08, s01, s09, s26, s32, s12, s13, s11, s14,
                 s24, s15, s30, s10, s16, s34, s17, s03, s29, s18, s19, s33,
                 s25, s20, s04, s27, s31, s21, s22, s28, s23, s06]
region_colors = ["#111111", "#161616", "#1c1c1c", "#242424", "#1e1e1e", "#2c2c2c",
                 "#383838", "#3f3f3f", "#404040", "#484848", "#4c4c4c", "#555555",
                 "#5a5a5a", "#606060", "#5e5e5e", "#666666", "#6c6c6c", "#6f6f6f",
                 "#727272", "#787878", "#7a7a7a", "#7d7d7d", "#828282", "#858585",
                 "#878787", "#8c8c8c", "#909090", "#939393", "#959595", "#979797",
                 "#9b9b9b", "#a0a0a0", "#a4a4a4", "#a9a9a9"]

for s in region_series + [red_mean]:
    assert len(s) == len(weeks), len(s)

y_tick_vals = list(range(-14, 6))
y_tick_text = [str(v) for v in y_tick_vals]
x_tick_vals = list(range(10, 101, 10))

FONT = "Liberation Sans, Arial, Helvetica, sans-serif"

fig = go.Figure()
for s, c in zip(region_series, region_colors):
    fig.add_trace(go.Scatter(x=weeks, y=s, mode="lines", connectgaps=True,
                             line=dict(color=c, width=2), hoverinfo="skip",
                             showlegend=False))

# zero reference line across the data span
fig.add_trace(go.Scatter(x=[weeks[0], weeks[-1]], y=[0, 0], mode="lines",
                         line=dict(color="black", width=1, dash="dash"),
                         hoverinfo="skip", showlegend=False))

fig.add_trace(go.Scatter(x=weeks, y=red_mean, mode="lines",
                         line=dict(color="#ff0000", width=4),
                         showlegend=False))

# year separator and arrows
yc = -13.32
fig.add_shape(type="line", x0=52, x1=52, y0=-14, y1=-12.5,
              line=dict(color="black", width=1.5))
left_arrow = (f"M 41.6 {yc} L 43.35 {yc+0.46} L 43.35 {yc+0.08} L 45.9 {yc+0.08} "
              f"L 45.9 {yc-0.08} L 43.35 {yc-0.08} L 43.35 {yc-0.46} Z")
right_arrow = (f"M 62.4 {yc} L 60.55 {yc+0.46} L 60.55 {yc+0.08} L 58.0 {yc+0.08} "
               f"L 58.0 {yc-0.08} L 60.55 {yc-0.08} L 60.55 {yc-0.46} Z")
for p in (left_arrow, right_arrow):
    fig.add_shape(type="path", path=p, line=dict(color="#8c8c8c", width=1),
                  fillcolor="white")
fig.add_annotation(x=51.55, y=yc, text="<b>2019</b>", showarrow=False,
                   xanchor="right", yanchor="middle",
                   font=dict(family=FONT, size=18, color="black"))
fig.add_annotation(x=52.45, y=yc, text="<b>2020</b>", showarrow=False,
                   xanchor="left", yanchor="middle",
                   font=dict(family=FONT, size=18, color="black"))

fig.update_layout(
    width=970, height=585,
    margin=dict(l=106, r=0, t=17, b=73, pad=0),
    paper_bgcolor="white", plot_bgcolor="white",
    font=dict(family=FONT, color="black"),
    xaxis=dict(
        range=[1, 102.65], tickmode="array", tickvals=x_tick_vals,
        ticks="outside", ticklen=9, tickwidth=1.5, tickcolor="black",
        minor=dict(dtick=1, ticks="outside", ticklen=5, tickwidth=1, tickcolor="black"),
        showline=True, linecolor="black", linewidth=2, mirror=True,
        showgrid=False, zeroline=False,
        tickfont=dict(family=FONT, size=19),
        ticklabelstandoff=-2,
        title=dict(text="<b>calendar week</b>", font=dict(family=FONT, size=23), standoff=17),
    ),
    yaxis=dict(
        range=[-14, 5], tickmode="array", tickvals=y_tick_vals, ticktext=y_tick_text,
        ticks="outside", ticklen=10, tickwidth=1.5, tickcolor="black",
        minor=dict(dtick=0.5, ticks="outside", ticklen=5, tickwidth=1, tickcolor="black"),
        showline=True, linecolor="black", linewidth=2,
        showgrid=False, zeroline=False,
        tickfont=dict(family=FONT, size=19),
        ticklabelstandoff=4,
        title=dict(text="<b>total ER counts (standardized)</b>",
                   font=dict(family=FONT, size=23), standoff=16),
    ),
)

# remove the default page margin so the 970x585 figure fills the window exactly
fig.write_html("out.html", config={"displayModeBar": False},
               post_script="document.body.style.margin='0';document.body.style.overflow='hidden';")
